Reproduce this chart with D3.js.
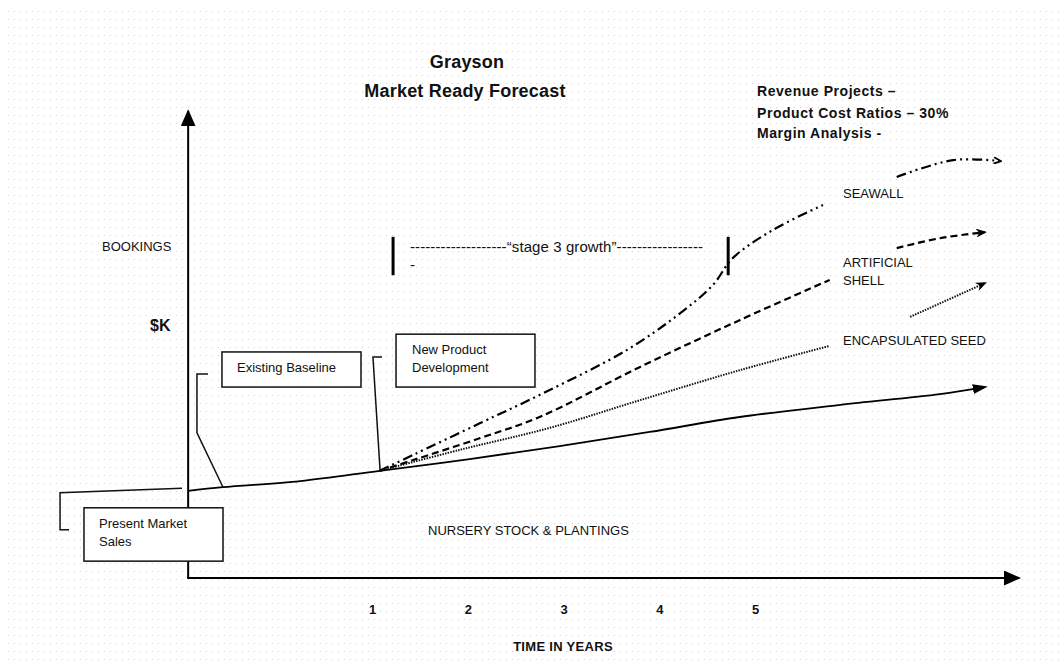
<!DOCTYPE html>
<html><head><meta charset="utf-8">
<script src="https://cdn.jsdelivr.net/npm/d3@7"></script>
<style>html,body{margin:0;padding:0;background:#fff;} svg{display:block;}</style>
</head><body><svg id="c" width="1060" height="664"></svg>
<script>
// ---------- data (time in years, bookings in relative $K units) ----------
const years = [1, 2, 3, 4, 5];
const nurseryStock = [[-0.92,18.6],[-0.56,19.4],[0.25,20.7],[1.08,22.9],[2.02,25.4],[2.96,28.2],[3.90,31.2],[4.84,34.4],[5.89,37.0],[6.93,39.3],[7.40,40.8]];
const seawall = [[1.08,22.9],[1.43,26.3],[2.13,33.1],[2.79,39.5],[3.66,48.7],[4.22,56.6],[4.56,62.6],[4.77,68.4],[5.19,74.4],[5.71,79.7],null,[6.48,85.7],[7.07,89.3],[7.56,89.1]];
const artificialShell = [[1.08,22.9],[1.43,25.2],[2.13,29.9],[2.75,34.4],[3.80,45.1],[4.84,55.1],[5.78,63.7],null,[6.48,70.5],[6.93,72.6],[7.40,73.9]];
const encapsulatedSeed = [[1.08,22.9],[1.92,27.4],[2.86,32.1],[3.80,38.0],[4.84,44.4],[5.78,49.6],null,[6.62,55.8],[7.40,63.0]];
const axisStartT = -0.92, axisEndT = 7.77;
const axisMinV = 0, axisMaxV = 100;
const stageBars = [1.22, 4.72];          // years
const stageBarRange = [64.7, 72.9];      // bookings
// annotation boxes [t0, t1, vTop, vBottom]
const boxExisting = [-0.567, 0.885, 48.3, 40.8];
const boxNewProduct = [1.251, 2.702, 52.1, 40.8];
const boxPresent = [-2.008, -0.556, 15.0, 3.6];
// callout leaders
const leaderExisting = [[-0.713,43.6],[-0.828,43.6],[-0.828,31.0],[-0.556,19.4]];
const leaderNewProduct = [[1.104,47.2],[1.010,47.2],[1.084,23.1]];
const leaderPresent = [[-2.164,10.3],[-2.258,10.3],[-2.258,18.2],[-0.984,19.2]];

// ---------- setup ----------
const W = 1060, H = 664;
const FONT = '"Liberation Sans", Arial, Helvetica, sans-serif';
const svg = d3.select('#c').attr('font-family', FONT);
const x = d3.scaleLinear().domain([1, 5]).range([372, 755]);
const y = d3.scaleLinear().domain([0, 100]).range([578, 110]);

const defs = svg.append('defs');
defs.append('pattern').attr('id', 'dots').attr('width', 6).attr('height', 8)
  .attr('patternUnits', 'userSpaceOnUse')
  .append('rect').attr('x', 2).attr('y', 3).attr('width', 1).attr('height', 1).attr('fill', '#d2d2d2');

function marker(id, d, w, h, refX, filled) {
  const m = defs.append('marker').attr('id', id).attr('viewBox', '0 0 10 10')
    .attr('refX', refX).attr('refY', 5).attr('markerWidth', w).attr('markerHeight', h)
    .attr('markerUnits', 'userSpaceOnUse').attr('orient', 'auto').attr('preserveAspectRatio', 'none');
  m.append('path').attr('d', d)
    .attr('fill', filled ? '#000' : 'none')
    .attr('stroke', filled ? 'none' : '#000').attr('stroke-width', filled ? 0 : 2.2)
    .attr('stroke-linejoin', 'miter');
}
marker('axArrow', 'M0,0L10,5L0,10Z', 17, 15, 9, true);
marker('solidArrow', 'M0,0L10,5L0,10Z', 15, 10, 8, true);
marker('smallArrow', 'M0,0L10,5L0,10L3,5Z', 11, 9, 8, true);
marker('chevron', 'M1,1L9,5L1,9', 9, 8, 8, false);

svg.append('rect').attr('width', W).attr('height', H).attr('fill', '#fff');
svg.append('rect').attr('x', 8).attr('y', 8).attr('width', W - 8).attr('height', H - 8).attr('fill', 'url(#dots)');

// ---------- axes ----------
svg.append('line')
  .attr('x1', x(axisStartT)).attr('y1', y(axisMinV))
  .attr('x2', x(axisStartT)).attr('y2', y(axisMaxV) + 1)
  .attr('stroke', '#000').attr('stroke-width', 2).attr('marker-end', 'url(#axArrow)');
svg.append('line')
  .attr('x1', x(axisStartT) - 1).attr('y1', y(axisMinV))
  .attr('x2', x(axisEndT) - 1).attr('y2', y(axisMinV))
  .attr('stroke', '#000').attr('stroke-width', 2).attr('marker-end', 'url(#axArrow)');

const gx = svg.append('g').attr('transform', `translate(0,${y(axisMinV)})`)
  .call(d3.axisBottom(x).tickValues(years).tickSize(0).tickPadding(27).tickFormat(d3.format('d')));
gx.select('.domain').remove();
gx.attr('font-family', FONT).attr('font-size', 13).attr('font-weight', 'bold');
gx.selectAll('text').attr('fill', '#111');

// ---------- series ----------
const line = d3.line().defined(d => d !== null)
  .x(d => x(d[0])).y(d => y(d[1])).curve(d3.curveCatmullRom.alpha(0.5));
const plain = d3.line().x(d => x(d[0])).y(d => y(d[1]));

svg.append('path').datum(nurseryStock).attr('d', line)
  .attr('fill', 'none').attr('stroke', '#000').attr('stroke-width', 1.8)
  .attr('marker-end', 'url(#solidArrow)');
svg.append('path').datum(seawall).attr('d', line)
  .attr('fill', 'none').attr('stroke', '#000').attr('stroke-width', 2.2)
  .attr('stroke-dasharray', '10,4,2,4,2,4').attr('marker-end', 'url(#chevron)');
svg.append('path').datum(artificialShell).attr('d', line)
  .attr('fill', 'none').attr('stroke', '#000').attr('stroke-width', 2.2)
  .attr('stroke-dasharray', '7,4').attr('marker-end', 'url(#smallArrow)');
svg.append('path').datum(encapsulatedSeed).attr('d', line)
  .attr('fill', 'none').attr('stroke', '#111').attr('stroke-width', 2)
  .attr('stroke-dasharray', '1.5,1.2').attr('marker-end', 'url(#smallArrow)');

// stage 3 bars
svg.selectAll('line.stage').data(stageBars).join('line').attr('class', 'stage')
  .attr('x1', d => x(d)).attr('x2', d => x(d))
  .attr('y1', y(stageBarRange[0])).attr('y2', y(stageBarRange[1]))
  .attr('stroke', '#000').attr('stroke-width', 3);

// ---------- callouts ----------
[leaderExisting, leaderNewProduct, leaderPresent].forEach(p => {
  svg.append('path').attr('d', plain(p)).attr('fill', 'none')
    .attr('stroke', '#111').attr('stroke-width', 1.5);
});
[boxExisting, boxNewProduct, boxPresent].forEach(b => {
  svg.append('rect').attr('x', x(b[0])).attr('y', y(b[2]))
    .attr('width', x(b[1]) - x(b[0])).attr('height', y(b[3]) - y(b[2]))
    .attr('fill', '#fff').attr('stroke', '#111').attr('stroke-width', 1.5);
});

// ---------- text ----------
function txt(s, px, py, o = {}) {
  const t = svg.append('text').attr('x', px).attr('y', py).text(s)
    .attr('font-size', o.size || 13).attr('font-weight', o.weight || 'normal')
    .attr('text-anchor', o.anchor || 'start').attr('fill', o.fill || '#111');
  if (o.ls) t.attr('letter-spacing', o.ls);
  if (o.len) t.attr('textLength', o.len).attr('lengthAdjust', 'spacing');
  return t;
}
txt('Grayson', 467, 68, {size: 18, weight: 'bold', anchor: 'middle', ls: 0.2});
txt('Market Ready Forecast', 465, 97, {size: 18, weight: 'bold', anchor: 'middle', ls: 0.2});
txt('Revenue Projects \u2013', 757, 96, {size: 14, weight: 'bold', ls: 0.55});
txt('Product Cost Ratios \u2013 30%', 757, 118, {size: 14, weight: 'bold', ls: 0.55});
txt('Margin Analysis -', 757, 138, {size: 14, weight: 'bold', ls: 0.55});
txt('SEAWALL', 843, 198);
txt('ARTIFICIAL', 843, 267);
txt('SHELL', 843, 285);
txt('ENCAPSULATED SEED', 843, 345);
txt('NURSERY STOCK & PLANTINGS', 428, 535);
txt('BOOKINGS', 102, 251);
txt('$K', 150, 331, {size: 16, weight: 'bold'});
txt('TIME IN YEARS', 563, 651, {weight: 'bold', anchor: 'middle', ls: 0.3});
txt('Existing Baseline', 237, 372);
txt('New Product', 412, 354);
txt('Development', 412, 372);
txt('Present Market', 99, 528);
txt('Sales', 99, 546);
txt('-------------------\u201Cstage 3 growth\u201D-----------------', 410, 252, {size: 15, len: 293});
txt('-', 410, 270, {size: 15});
</script></body></html>
